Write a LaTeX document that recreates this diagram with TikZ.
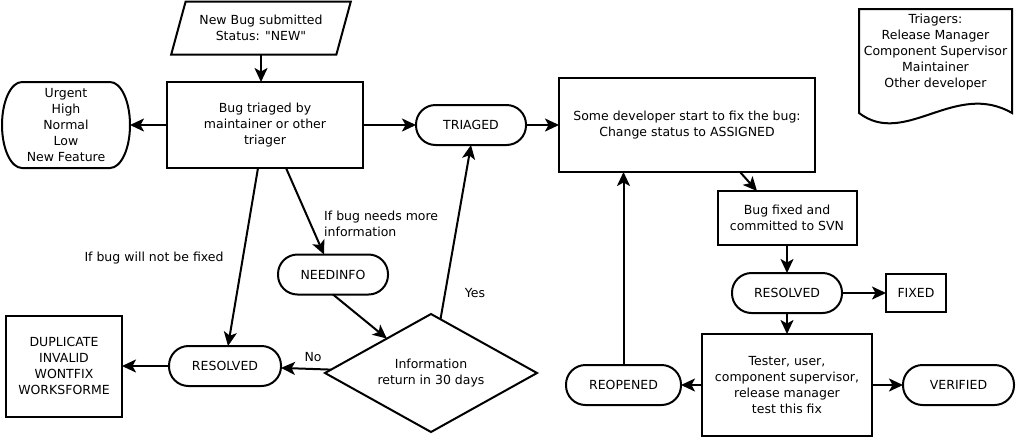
\documentclass[tikz,border=0pt]{standalone}
\usepackage{fontspec}
\setmainfont{DejaVu Sans}[Ligatures=TeXOff]
\usetikzlibrary{positioning,shapes.geometric,arrows.meta}

\begin{document}
\begin{tikzpicture}[
	x=1pt, y=1pt,
	font=\fontsize{12.5}{16}\selectfont,
	node distance=30pt and 30pt,
	mybox/.style = {
		draw, rectangle, align=center,
		line width=2pt, inner sep=2pt, outer sep=0pt},
	mystate/.style = {
		draw, rectangle, align=center, rounded corners=19.5pt,
		line width=2pt, minimum width=110pt, minimum height=40pt,
		inner sep=2pt, outer sep=0pt},
	mylabel/.style = {align=left, inner sep=0pt},
	arrow/.style = {line width=2pt,
		-{Stealth[length=14pt,width=13pt,inset=3.5pt]}}
]
\useasboundingbox (0,0) rectangle (1016,-437);

\node (n2)  [mybox, minimum width=196pt, minimum height=86pt]
            at (265,-125)           {Bug triaged by\\
                                     maintainer or other\\
                                     triager};
\node (n1)  [draw, trapezium, trapezium left angle=69,
             trapezium right angle=111, trapezium stretches=true,
             line width=2pt, minimum width=180pt, minimum height=53pt,
             align=center, outer sep=0pt]
            at (261,-28)            {New Bug submitted\\
                                     Status: "NEW"};
\node (n2l) [align=center, minimum width=128pt, minimum height=86pt,
             outer sep=0pt, left=37pt of n2]
                                    {Urgent\\ High\\ Normal\\ Low\\
                                     New Feature};
\node (n3)  [mystate, right=53pt of n2]   {TRIAGED};
\node (n4)  [mybox, minimum width=256pt, minimum height=94pt,
             right=33pt of n3]      {Some developer start to fix the bug:\\
                                     Change status to ASSIGNED};

\node (n5)  [mybox, minimum width=139pt, minimum height=54pt]
            at (787,-218)           {Bug fixed and\\
                                     committed to SVN};
\node (n6)  [mystate, below=28pt of n5]   {RESOLVED};
\node (n6r) [mybox, minimum width=60pt, minimum height=38pt,
             right=44pt of n6]      {FIXED};
\node (n7)  [mybox, minimum width=170pt, minimum height=102pt,
             below=21pt of n6]      {Tester, user,\\
                                     component supervisor,\\
                                     release manager\\
                                     test this fix};
\node (n7l) [mystate, minimum width=115pt, left=21pt of n7]  {REOPENED};
\node (n7r) [mystate, minimum width=111pt, right=31pt of n7] {VERIFIED};

\node (n8)  [mystate] at (333,-274.5)    {NEEDINFO};
\node (n9)  [draw, diamond, aspect=1.8, line width=2pt,
             minimum width=212pt, minimum height=118pt,
             inner sep=0pt, align=center, outer sep=0pt]
            at (431,-373)           {Information\\
                                     return in 30 days};
\node (n10) [mystate, minimum width=112pt] at (225,-366) {RESOLVED};
\node (n10l) [mybox, minimum width=116pt, minimum height=101pt,
              left=47pt of n10]     {DUPLICATE\\ INVALID\\
                                     WONTFIX\\ WORKSFORME};

\node (n0)  [align=center, inner sep=0pt] at (935.5,-52.5)
                                    {Triagers:\\ Release Manager\\
                                     Component Supervisor\\
                                     Maintainer\\ Other developer};

% labels
\node (l1) [mylabel] at (154,-258) {If bug will not be fixed};
\node (l2) [mylabel, anchor=west] at (324,-224)
                                   {If bug needs more\\ information};
\node (l3) [mylabel] at (475,-293) {Yes};
\node (l4) [mylabel] at (313,-357) {No};

% outlines drawn by hand
\draw[line width=2pt] ([xshift=20pt]n2l.north west)
        -- ([xshift=-20pt]n2l.north east)
        arc[start angle=90, end angle=-90, x radius=20pt, y radius=43pt]
        -- ([xshift=20pt]n2l.south west)
        arc[start angle=270, end angle=90, x radius=20pt, y radius=43pt]
        -- cycle;
\draw[line width=2pt] (859,-9) -- (1012,-9) -- (1012,-113)
        .. controls (955,-80) and (905,-148) .. (859,-113) -- cycle;

\draw[arrow] (n1) -- (n1 |- n2.north);
\draw[arrow] (n2) -- (n2l);
\draw[arrow] (n2) -- (n3);
\draw[arrow] (n3) -- (n4);
\draw[arrow] ([xshift=53pt]n4.south) -- ([xshift=-30pt]n5.north);
\draw[arrow] (n5) -- (n6);
\draw[arrow] (n6) -- (n6r);
\draw[arrow] (n6) -- (n7);
\draw[arrow] (n7) -- (n7l);
\draw[arrow] (n7) -- (n7r);
\draw[arrow] (n7l) -- (n7l |- n4.south);

\draw[arrow] ([xshift=-7pt]n2.south) -- ([xshift=3pt]n10.north);
\draw[arrow] ([xshift=21pt]n2.south) -- ([xshift=-9pt]n8.north);
\draw[arrow] (n8.south) -- (n9.142);
\draw[arrow] (n9.80) -- (n3.south);
\draw[arrow] (n9) -- (n10);
\draw[arrow] (n10) -- (n10l);
\end{tikzpicture}
\end{document}
